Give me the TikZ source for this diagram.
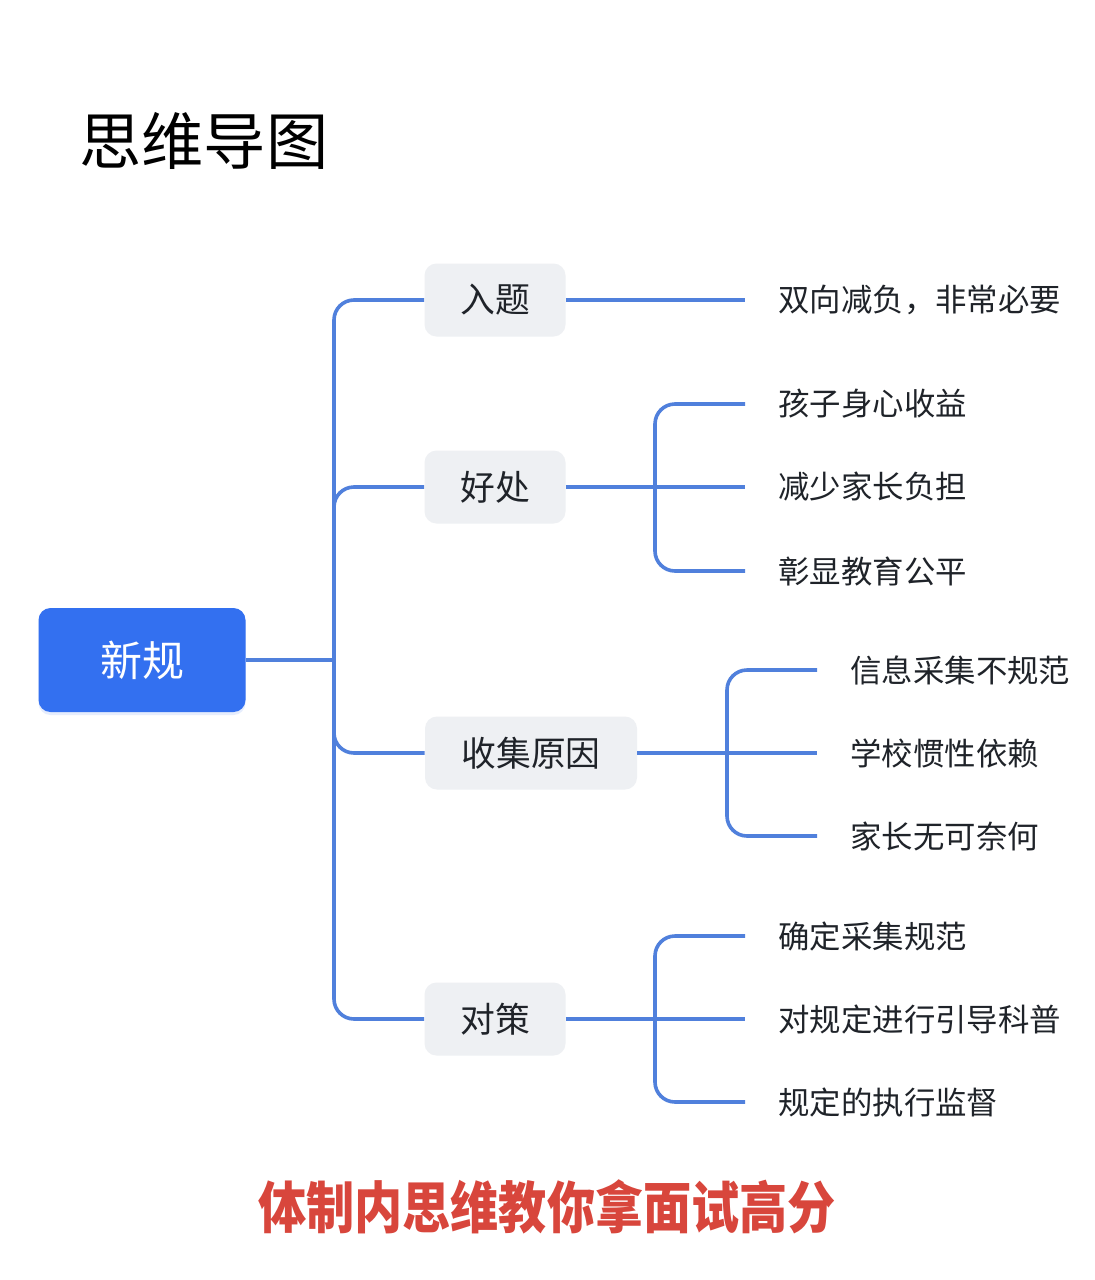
\documentclass[tikz,border=0pt]{standalone}
\usepackage{fontspec}
\setmainfont{Noto Sans CJK SC}
\newfontfamily\cjkheavy{Noto Sans CJK SC Black}
\usetikzlibrary{shadows}
\definecolor{rootblue}{RGB}{51,112,240}
\definecolor{linkblue}{RGB}{80,128,220}
\definecolor{boxgray}{RGB}{238,240,243}
\definecolor{txtdark}{RGB}{31,35,41}
\definecolor{slogan}{RGB}{216,70,60}
\tikzset{
  rootbox/.style={fill=rootblue, rounded corners=6pt, minimum width=103.5pt, minimum height=52pt,
    text=white, font=\fontsize{21pt}{25pt}\selectfont, inner sep=0pt,
    drop shadow={fill=rootblue!35, opacity=0.35, shadow xshift=0pt, shadow yshift=-1.5pt}},
  topicbox/.style={fill=boxgray, rounded corners=6pt, minimum height=36.5pt, inner xsep=17pt, inner ysep=0pt,
    text=txtdark, font=\fontsize{17.4pt}{21pt}\selectfont},
  leafbox/.style={anchor=west, inner xsep=16.5pt, inner ysep=2pt, text=txtdark,
    font=\fontsize{15.7pt}{19pt}\selectfont},
  link/.style={draw=linkblue, line width=1.8pt, rounded corners=10pt},
}
\begin{document}
\begin{tikzpicture}[x=0.5pt,y=-0.5pt]
\useasboundingbox[fill=white] (0,0) rectangle (1095,1280);
\node[anchor=west, inner sep=0pt, font=\fontsize{31.1pt}{35pt}\selectfont, text=black] (title) at (79,141) {思维导图};

\node[rootbox] (root) at (142,660) {新规};
\coordinate (hub) at (334,660);

\node[topicbox, minimum width=70.5pt] (t1) at (495,300) {入题};
\node[topicbox, minimum width=70.5pt] (t2) at (495,487) {好处};
\node[topicbox, minimum width=106pt] (t3) at (531,753) {收集原因};
\node[topicbox, minimum width=70.5pt] (t4) at (495,1019) {对策};

\draw[link] (root.east) -- (hub);
\foreach \t in {t1,t2,t3,t4} \draw[link] (hub) |- (\t.west);

% leaves
\node[leafbox] (l11) at (745,300) {双向减负，非常必要};
\draw[link] (t1.east) -- (l11.west);

\coordinate (j2) at (655,487);
\node[leafbox] (l21) at (745,404) {孩子身心收益};
\node[leafbox] (l22) at (745,487) {减少家长负担};
\node[leafbox] (l23) at (745,571) {彰显教育公平};
\draw[link] (t2.east) -- (l22.west);
\foreach \l in {l21,l23} \draw[link] (j2) |- (\l.west);

\coordinate (j3) at (727,753);
\node[leafbox] (l31) at (817,670) {信息采集不规范};
\node[leafbox] (l32) at (817,753) {学校惯性依赖};
\node[leafbox] (l33) at (817,836) {家长无可奈何};
\draw[link] (t3.east) -- (l32.west);
\foreach \l in {l31,l33} \draw[link] (j3) |- (\l.west);

\coordinate (j4) at (655,1019);
\node[leafbox] (l41) at (745,936) {确定采集规范};
\node[leafbox] (l42) at (745,1019) {对规定进行引导科普};
\node[leafbox] (l43) at (745,1102) {规定的执行监督};
\draw[link] (t4.east) -- (l42.west);
\foreach \l in {l41,l43} \draw[link] (j4) |- (\l.west);

\node[font=\cjkheavy\fontsize{28pt}{32pt}\selectfont, text=slogan, inner sep=0pt, xscale=0.86] (slogan) at (547,1207) {体制内思维教你拿面试高分};
\end{tikzpicture}
\end{document}
